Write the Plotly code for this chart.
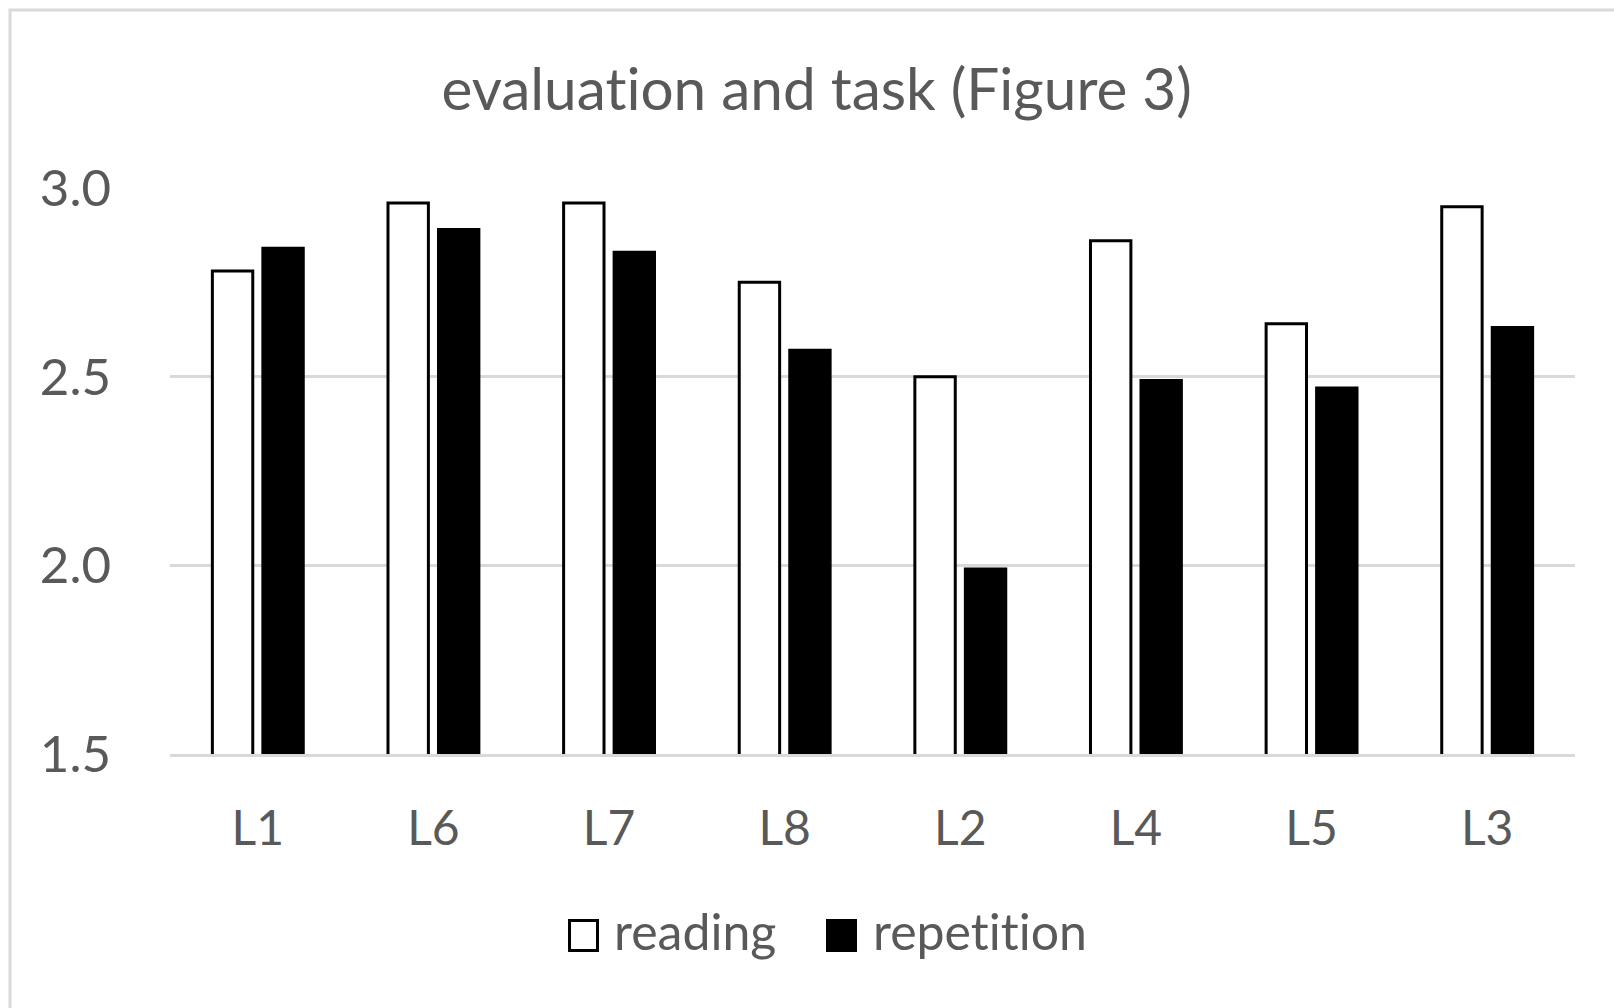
import plotly.graph_objects as go

# Scores per list, two tasks
categories = ["L1", "L6", "L7", "L8", "L2", "L4", "L5", "L3"]
reading = [2.78, 2.96, 2.96, 2.75, 2.50, 2.86, 2.64, 2.95]
repetition = [2.84, 2.89, 2.83, 2.57, 1.99, 2.49, 2.47, 2.63]
y_ticks = [1.5, 2.0, 2.5, 3.0]
y_tick_text = ["1.5", "2.0", "2.5", "3.0"]

W, H = 1614, 1008
ML, MR, MT, MB = 170, 39, 188, 254
PW, PH = W - ML - MR, H - MT - MB
FONT = "Lato"
TEXT_GREY = "#595959"
GRID_GREY = "#d9d9d9"
ZWNJ = "\u200c"  # keeps Lato from joining "t" and "i" into a ligature


def no_lig(s):
    return s.replace("ti", "t" + ZWNJ + "i")


def px_x(x):
    """Page pixel x -> paper coordinate."""
    return (x - ML) / PW


def px_y(y):
    """Page pixel y -> paper coordinate."""
    return (H - MB - y) / PH


fig = go.Figure()
fig.add_trace(go.Bar(
    x=categories, y=reading, name="reading",
    marker=dict(color="white", line=dict(color="black", width=3)),
    showlegend=False,
))
fig.add_trace(go.Bar(
    x=categories, y=repetition, name="repetition",
    marker=dict(color="black", line=dict(color="black", width=3)),
    showlegend=False,
))

# Outer chart frame
shapes = [dict(type="rect", xref="paper", yref="paper",
               x0=px_x(10), x1=px_x(W + 20), y0=px_y(H + 20), y1=px_y(10),
               line=dict(color=GRID_GREY, width=3), fillcolor="rgba(0,0,0,0)",
               layer="below")]

# Legend keys
legend_items = [("reading", "white", 568, 612), ("repetition", "black", 826, 871)]
annotations = []
for label, fill, sx, tx in legend_items:
    shapes.append(dict(type="rect", xref="paper", yref="paper",
                       x0=px_x(sx + 1.5), x1=px_x(sx + 29.5),
                       y0=px_y(950.5), y1=px_y(920.5),
                       line=dict(color="black", width=3), fillcolor=fill))
    annotations.append(dict(text=no_lig(label), xref="paper", yref="paper",
                            x=px_x(tx), y=px_y(931), xanchor="left", yanchor="middle",
                            showarrow=False,
                            font=dict(family=FONT, size=50, color=TEXT_GREY)))

fig.update_layout(
    width=W, height=H,
    margin=dict(l=ML, r=MR, t=MT, b=MB, pad=0),
    paper_bgcolor="white", plot_bgcolor="white",
    barmode="group", bargap=0.425, bargroupgap=0.2,
    title=dict(text=no_lig("evaluation and task (Figure 3)"),
               xref="container", yref="container",
               x=0.506, y=1 - 90 / H, xanchor="center", yanchor="middle",
               font=dict(family=FONT, size=58.5, color=TEXT_GREY)),
    font=dict(family=FONT, color=TEXT_GREY),
    shapes=shapes,
    annotations=annotations,
    showlegend=False,
)
fig.update_yaxes(
    range=[1.5, 3.0], tickvals=y_ticks, ticktext=y_tick_text,
    showgrid=True, gridcolor=GRID_GREY, gridwidth=3,
    zeroline=False, showline=False, ticks="",
    ticklabelstandoff=58,
    tickfont=dict(family=FONT, size=51, color=TEXT_GREY),
)
fig.update_xaxes(
    showgrid=False, zeroline=False, ticks="",
    showline=True, linecolor=GRID_GREY, linewidth=3,
    ticklabelstandoff=30,
    tickfont=dict(family=FONT, size=48, color=TEXT_GREY),
)

fig.write_html("out.html")
